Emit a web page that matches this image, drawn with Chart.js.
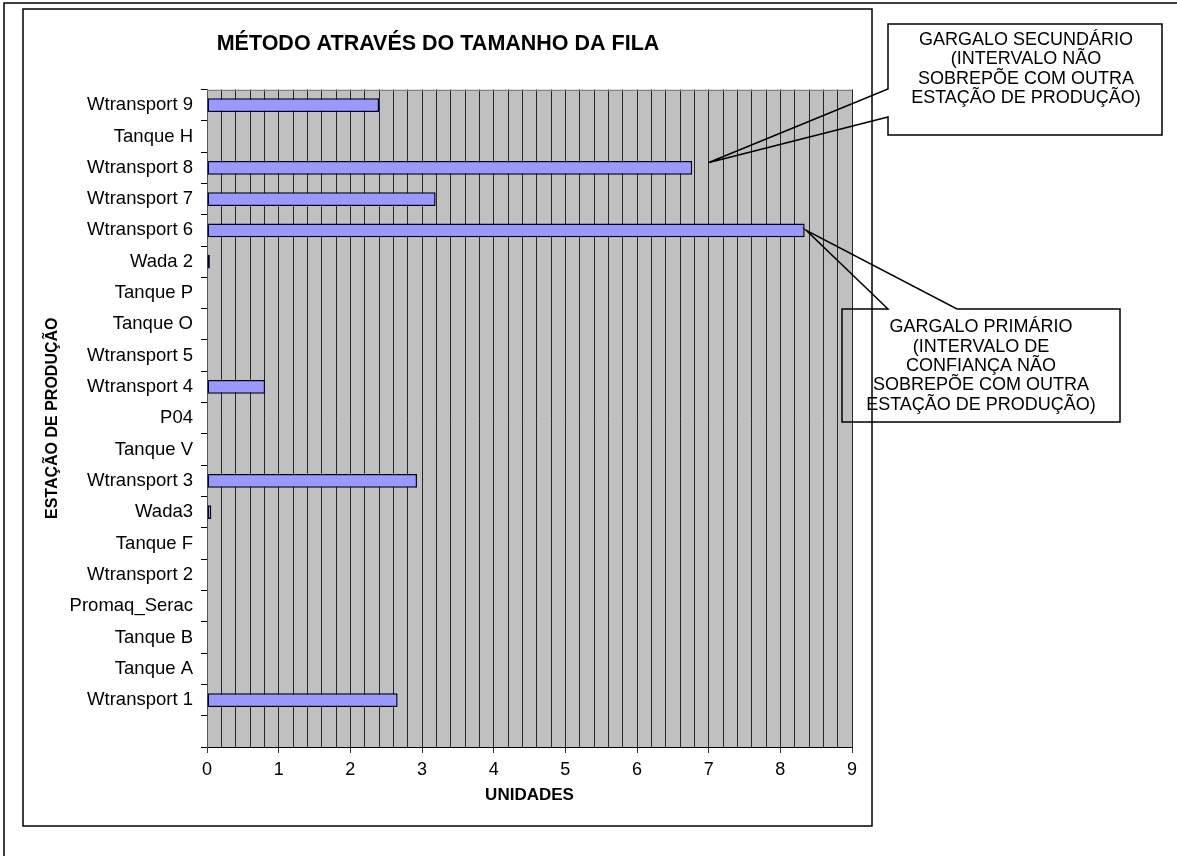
<!DOCTYPE html>
<html>
<head>
<meta charset="utf-8">
<script src="https://cdn.jsdelivr.net/npm/chart.js@4/dist/chart.umd.min.js"></script>
<style>
html,body{margin:0;padding:0;background:#fff;}
#wrap{position:relative;width:1177px;height:856px;}
</style>
</head>
<body>
<div id="wrap"><canvas id="c" width="1177" height="856"></canvas></div>
<script>
// ---- data ----
const categories = ["Wtransport 9","Tanque H","Wtransport 8","Wtransport 7","Wtransport 6","Wada 2","Tanque P","Tanque O","Wtransport 5","Wtransport 4","P04","Tanque V","Wtransport 3","Wada3","Tanque F","Wtransport 2","Promaq_Serac","Tanque B","Tanque A","Wtransport 1",""];
const queueValues = [2.40,0,6.77,3.19,8.34,0.04,0,0,0,0.81,0,0,2.93,0.06,0,0,0,0,0,2.66,null];
const xTickLabels = ["0","1","2","3","4","5","6","7","8","9"];
const chartTitle = "MÉTODO ATRAVÉS DO TAMANHO DA FILA";
const xAxisTitle = "UNIDADES";
const yAxisTitle = "ESTAÇÃO DE PRODUÇÃO";
const calloutSecondary = ["GARGALO SECUNDÁRIO","(INTERVALO NÃO","SOBREPÕE COM OUTRA","ESTAÇÃO DE PRODUÇÃO)"];
const calloutPrimary = ["GARGALO PRIMÁRIO","(INTERVALO DE","CONFIANÇA NÃO","SOBREPÕE COM OUTRA","ESTAÇÃO DE PRODUÇÃO)"];
const secondaryIndex = 2; // Wtransport 8
const primaryIndex = 4;   // Wtransport 6

const FONT = "'Liberation Sans', Arial, Helvetica, sans-serif";
Chart.defaults.font.family = FONT;
Chart.defaults.color = '#000';

const isWhole = v => Math.abs(v - Math.round(v)) < 1e-6;

const bgPlugin = {
  id: 'plotBg',
  beforeDraw(chart) {
    const {ctx, chartArea: a} = chart;
    ctx.save();
    ctx.fillStyle = '#C0C0C0';
    ctx.fillRect(a.left, a.top, a.right - a.left, a.bottom - a.top);
    ctx.restore();
  }
};

const decoPlugin = {
  id: 'deco',
  afterDraw(chart) {
    const {ctx, chartArea: a, scales} = chart;
    const xs = scales.x, ys = scales.y;
    ctx.save();
    // plot top border
    ctx.strokeStyle = '#808080';
    ctx.lineWidth = 1;
    ctx.beginPath();
    ctx.moveTo(a.left, Math.round(a.top) + 0.5);
    ctx.lineTo(a.right, Math.round(a.top) + 0.5);
    ctx.stroke();

    // outer frame (top + left)
    ctx.strokeStyle = '#000';
    ctx.lineWidth = 1.5;
    ctx.beginPath();
    ctx.moveTo(1177, 3);
    ctx.lineTo(4, 3);
    ctx.lineTo(4, 856);
    ctx.stroke();
    // inner chart border
    ctx.strokeRect(23, 9, 849, 817);

    // callout secondary
    const t1x = xs.getPixelForValue(queueValues[secondaryIndex]) + 16;
    const t1y = ys.getPixelForValue(secondaryIndex) - 5;
    ctx.lineWidth = 1.5;
    ctx.beginPath();
    ctx.moveTo(888, 89);
    ctx.lineTo(888, 24);
    ctx.lineTo(1162, 24);
    ctx.lineTo(1162, 135);
    ctx.lineTo(888, 135);
    ctx.lineTo(888, 117);
    ctx.lineTo(t1x, t1y);
    ctx.closePath();
    ctx.stroke();

    // callout primary
    const t2x = xs.getPixelForValue(queueValues[primaryIndex]) + 1.5;
    const t2y = ys.getPixelForValue(primaryIndex);
    ctx.beginPath();
    ctx.moveTo(888, 309);
    ctx.lineTo(t2x, t2y);
    ctx.lineTo(957, 309);
    ctx.lineTo(1120, 309);
    ctx.lineTo(1120, 422);
    ctx.lineTo(842, 422);
    ctx.lineTo(842, 309);
    ctx.closePath();
    ctx.stroke();

    ctx.fillStyle = '#000';
    ctx.font = '18px ' + FONT;
    ctx.textAlign = 'center';
    ctx.textBaseline = 'middle';
    calloutSecondary.forEach((s, i) => ctx.fillText(s, 1026, 40 + i * 19.3));
    calloutPrimary.forEach((s, i) => ctx.fillText(s, 981, 327.5 + i * 19.3));
    ctx.restore();
  }
};

new Chart(document.getElementById('c'), {
  type: 'bar',
  data: {
    labels: categories,
    datasets: [{
      label: 'Tamanho da fila',
      data: queueValues,
      backgroundColor: '#9999FF',
      borderColor: '#000022',
      borderWidth: 1.5,
      borderSkipped: false,
      barPercentage: 0.44,
      categoryPercentage: 1
    }]
  },
  options: {
    indexAxis: 'y',
    responsive: false,
    animation: false,
    events: [],
    layout: { padding: { left: 24, right: 325, top: 10, bottom: 50 } },
    plugins: {
      legend: { display: false },
      tooltip: { enabled: false },
      title: {
        display: true,
        text: chartTitle,
        color: '#000',
        font: { family: FONT, size: 21.5, weight: 'bold', lineHeight: 1.2 },
        padding: { top: 21, bottom: 32.7 }
      }
    },
    scales: {
      x: {
        type: 'linear',
        position: 'bottom',
        min: 0,
        max: 9,
        ticks: {
          stepSize: 0.2,
          autoSkip: false,
          maxRotation: 0,
          padding: 6,
          color: '#000',
          font: { family: FONT, size: 18 },
          callback: v => isWhole(v) ? xTickLabels[Math.round(v)] : ''
        },
        grid: {
          color: '#262626',
          lineWidth: 1,
          tickLength: 6,
          tickColor: c => (c.tick && isWhole(c.tick.value)) ? '#333' : 'rgba(0,0,0,0)'
        },
        border: { display: true, color: '#000', width: 1 },
        title: {
          display: true,
          text: xAxisTitle,
          color: '#000',
          font: { family: FONT, size: 17, weight: 'bold', lineHeight: 1.2 },
          padding: { top: 0, bottom: 0 }
        },
        afterFit: s => { s.height = 59; }
      },
      y: {
        type: 'category',
        ticks: {
          autoSkip: false,
          padding: 8,
          color: '#000',
          font: { family: FONT, size: 18.5 }
        },
        grid: {
          drawOnChartArea: false,
          offset: true,
          tickLength: 6,
          color: '#000'
        },
        border: { display: true, color: '#555', width: 1 },
        title: {
          display: true,
          text: yAxisTitle,
          color: '#000',
          font: { family: FONT, size: 16, weight: 'bold', lineHeight: 1.2 },
          padding: { top: 19, bottom: 0 }
        },
        afterFit: s => { s.width = 183; }
      }
    }
  },
  plugins: [bgPlugin, decoPlugin]
});
</script>
</body>
</html>
